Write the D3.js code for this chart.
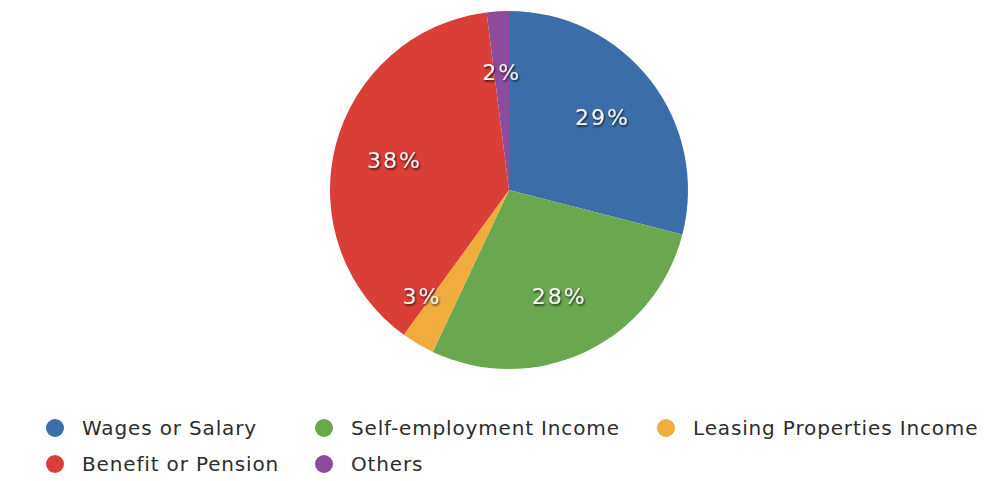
<!DOCTYPE html>
<html>
<head>
<meta charset="utf-8">
<script src="https://cdn.jsdelivr.net/npm/d3@7"></script>
<style>
  html, body { margin: 0; padding: 0; background: #fff; }
  svg { display: block; }
</style>
</head>
<body>
<svg id="chart" width="1007" height="481"></svg>
<script>
// Income sources, clockwise from 12 o'clock
const categories = ["Wages or Salary", "Self-employment Income", "Leasing Properties Income", "Benefit or Pension", "Others"];
const shares = [29, 28, 3, 38, 2];
const colors = ["#3b6ea8", "#6aa84f", "#f0ac3c", "#d93f37", "#8c4b9c"];
const legendRows = [[0, 1, 2], [3, 4]];

const svg = d3.select("#chart");
const cx = 509, cy = 190, R = 179;

const data = categories.map((c, i) => ({ name: c, value: shares[i], color: colors[i] }));

const pie = d3.pie().value(d => d.value).sort(null);
const arc = d3.arc().innerRadius(0).outerRadius(R);
const arcs = pie(data);

// soft drop shadow for slice labels
const defs = svg.append("defs");
const f = defs.append("filter").attr("id", "lblShadow").attr("x", "-30%").attr("y", "-30%").attr("width", "160%").attr("height", "160%");
f.append("feDropShadow").attr("dx", 1).attr("dy", 1.5).attr("stdDeviation", 1.2).attr("flood-color", "#000").attr("flood-opacity", 0.75);

const g = svg.append("g").attr("transform", `translate(${cx},${cy})`);

g.selectAll("path.slice")
  .data(arcs)
  .enter().append("path")
  .attr("class", "slice")
  .attr("d", arc)
  .attr("fill", d => d.data.color)
  .attr("stroke", "none");

// label positions: centroid at ~2/3 radius, thin slices pushed a bit outward
const labelArc = d3.arc().innerRadius(R * 0.66).outerRadius(R * 0.66);
g.selectAll("text.val")
  .data(arcs)
  .enter().append("text")
  .attr("class", "val")
  .attr("transform", d => {
    let [x, y] = labelArc.centroid(d);
    if (d.data.value === 3) {
      const a = (d.startAngle + d.endAngle) / 2 + 0.15;
      const rr = R * 0.77;
      x = Math.sin(a) * rr; y = -Math.cos(a) * rr;
    }
    return `translate(${x},${y})`;
  })
  .attr("text-anchor", "middle")
  .attr("dominant-baseline", "central")
  .attr("font-family", "'DejaVu Sans', sans-serif")
  .attr("font-size", 22)
  .attr("letter-spacing", 2)
  .attr("fill", "#f4f4f4")
  .attr("filter", "url(#lblShadow)")
  .text(d => d.data.value + "%");

// Legend
const colX = [55, 324, 666];
const rowY = [428, 464];
const leg = svg.append("g");
legendRows.forEach((row, ri) => {
  row.forEach((idx, ci) => {
    const item = leg.append("g").attr("transform", `translate(${colX[ci]},${rowY[ri]})`);
    item.append("circle").attr("r", 9).attr("fill", colors[idx]);
    item.append("text")
      .attr("x", 27)
      .attr("dominant-baseline", "central")
      .attr("font-family", "'DejaVu Sans', sans-serif")
      .attr("font-size", 20)
      .attr("letter-spacing", 0.85)
      .attr("fill", "#2d2d2d")
      .text(categories[idx]);
  });
});
</script>
</body>
</html>
